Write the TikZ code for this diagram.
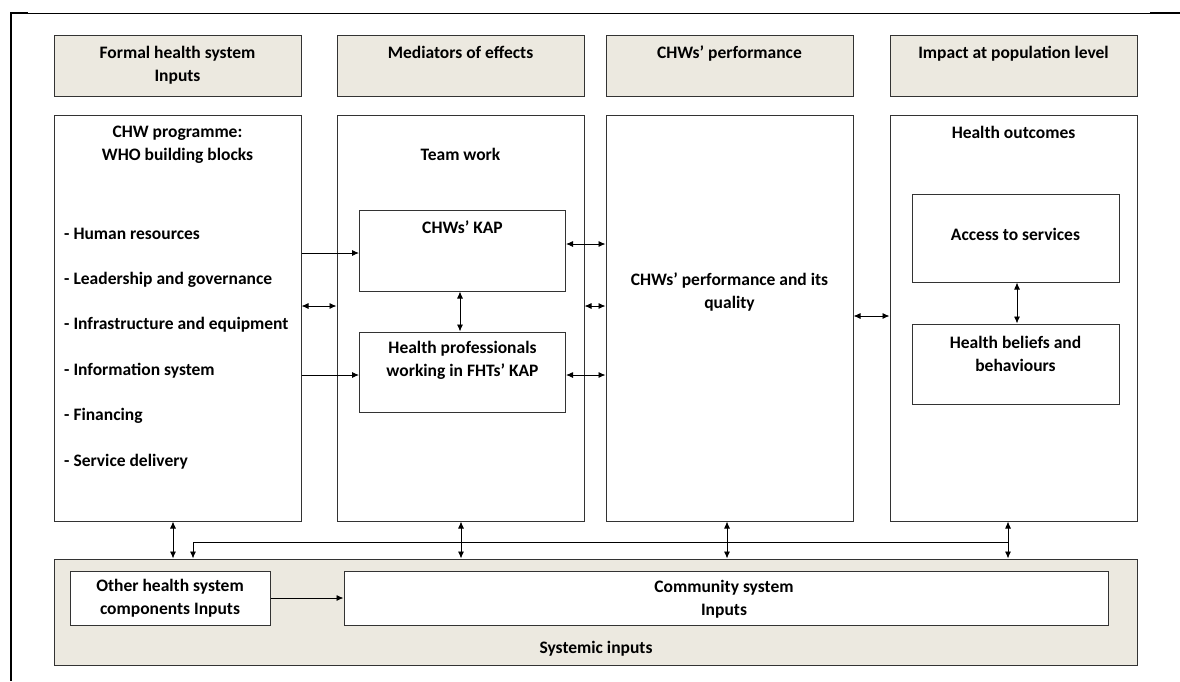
\documentclass[tikz,border=0pt]{standalone}
\usepackage{fontspec}
\setmainfont{Carlito}
\usetikzlibrary{arrows.meta,positioning}
\definecolor{boxBeige}{HTML}{ECE9E0}
\definecolor{lineGray}{HTML}{333333}

\begin{document}
\begin{tikzpicture}[x=1pt, y=-1pt,
    font=\fontsize{17.5}{23}\selectfont\bfseries,
    box/.style={draw=lineGray, line width=1pt, inner sep=0pt, align=center},
    headbox/.style={box, fill=boxBeige, minimum width=247pt, minimum height=61pt},
    mainbox/.style={box, minimum width=247pt, minimum height=406pt},
    innerbox/.style={box, minimum width=206pt, minimum height=81pt},
    arr/.style={-{Latex[length=7pt,width=6pt]}, line width=0.9pt},
    dblarr/.style={{Latex[length=7pt,width=6pt]}-{Latex[length=7pt,width=6pt]}, line width=0.9pt},
    lbl/.style={inner sep=0pt, align=center}]
    \useasboundingbox (0,0) rectangle (1180,681);
    % Frame
    \draw[line width=0.9pt] (10,13) -- (1180,13);
    \draw[line width=2pt] (10,13) -- (28,13);
    \draw[line width=2pt] (1150,13) -- (1180,13);
    \draw[line width=1.4pt] (11,13) -- (11,681);
    % Header row
    \node[headbox] (hInputs) at (177.5,65.5) {Formal health system\\Inputs};
    \node[headbox] (hMediators) at (460.5,65.5) {};
    \node[headbox] (hPerf) at (729.5,65.5) {};
    \node[headbox] (hImpact) at (1013.5,65.5) {};
    \node[lbl, anchor=base] at (460.5,58) {Mediators of effects};
    \node[lbl, anchor=base] at (729.5,58) {CHWs’ performance};
    \node[lbl, anchor=base] at (1013.5,58) {Impact at population level};
    % Main columns
    \node[mainbox] (prog) at (177.5,318) {};
    \node[mainbox] (team) at (460.5,318) {};
    \node[mainbox] (perf) at (729.5,318) {};
    \node[mainbox] (outc) at (1013.5,318) {};
    \node[lbl] at (177.5,145) {CHW programme:\\WHO building blocks};
    \node[lbl] at (460.5,154) {Team work};
    \node[lbl] at (729.5,292) {CHWs’ performance and its\\quality};
    \node[lbl] at (1013.5,132) {Health outcomes};
    % Building blocks
    \foreach \txt [count=\i] in {Human resources, Leadership and governance,
        Infrastructure and equipment, Information system, Financing, Service delivery}
      \node[lbl, anchor=west] at (64,188.5+45.5*\i) {- \txt};
    % Inner boxes
    \node[innerbox] (kap) at (462.5,250.5) {};
    \node[lbl] at (462.5,227) {CHWs’ KAP};
    \node[innerbox, minimum height=80pt] (fht) at (462.5,372) {};
    \node[lbl] at (462.5,360.5) {Health professionals\\working in FHTs’ KAP};
    \node[innerbox, minimum width=207pt, minimum height=88pt] (access) at (1015.5,238) {};
    \node[lbl] at (1015.5,234) {Access to services};
    \node[innerbox, minimum width=207pt, minimum height=80pt] (beliefs) at (1015.5,364) {};
    \node[lbl] at (1015.5,353.5) {Health beliefs and\\behaviours};
    % Systemic inputs
    \node[box, fill=boxBeige, minimum width=1083pt, minimum height=106pt] (sys) at (595.5,612) {};
    \node[lbl] at (596,649) {Systemic inputs};
    \node[box, fill=white, minimum width=200pt, minimum height=54pt] (other) at (170,598) {Other health system\\components Inputs};
    \node[box, fill=white, minimum width=764pt, minimum height=54pt] (comm) at (726,598) {};
    \node[lbl] at (724,599.5) {Community system\\Inputs};
    % Connectors
    \draw[arr] (prog.east |- 0,253) -- (kap.west |- 0,253);
    \draw[arr] (prog.east |- 0,375) -- (fht.west |- 0,375);
    \draw[dblarr] (prog.east |- 0,306) -- (team.west |- 0,306);
    \draw[dblarr] (kap.south -| 460,0) -- (fht.north -| 460,0);
    \draw[dblarr] (kap.east |- 0,244) -- (perf.west |- 0,244);
    \draw[dblarr] (team.east |- 0,306) -- (perf.west |- 0,306);
    \draw[dblarr] (fht.east |- 0,375) -- (perf.west |- 0,375);
    \draw[dblarr] (perf.east |- 0,316) -- (outc.west |- 0,316);
    \draw[dblarr] (access.south -| 1017,0) -- (beliefs.north -| 1017,0);
    \draw[arr] (other) -- (comm);
    % Links to systemic inputs
    \draw[dblarr] (prog.south -| 173,0) -- (sys.north -| 173,0);
    \draw[dblarr] (team.south -| 461,0) -- (sys.north -| 461,0);
    \draw[dblarr] (perf.south -| 727,0) -- (sys.north -| 727,0);
    \draw[dblarr] (outc.south -| 1008,0) -- (sys.north -| 1008,0);
    \coordinate (bus) at (1008,542);
    \draw[arr] (bus) -| (sys.north -| 193,0);
\end{tikzpicture}
\end{document}
